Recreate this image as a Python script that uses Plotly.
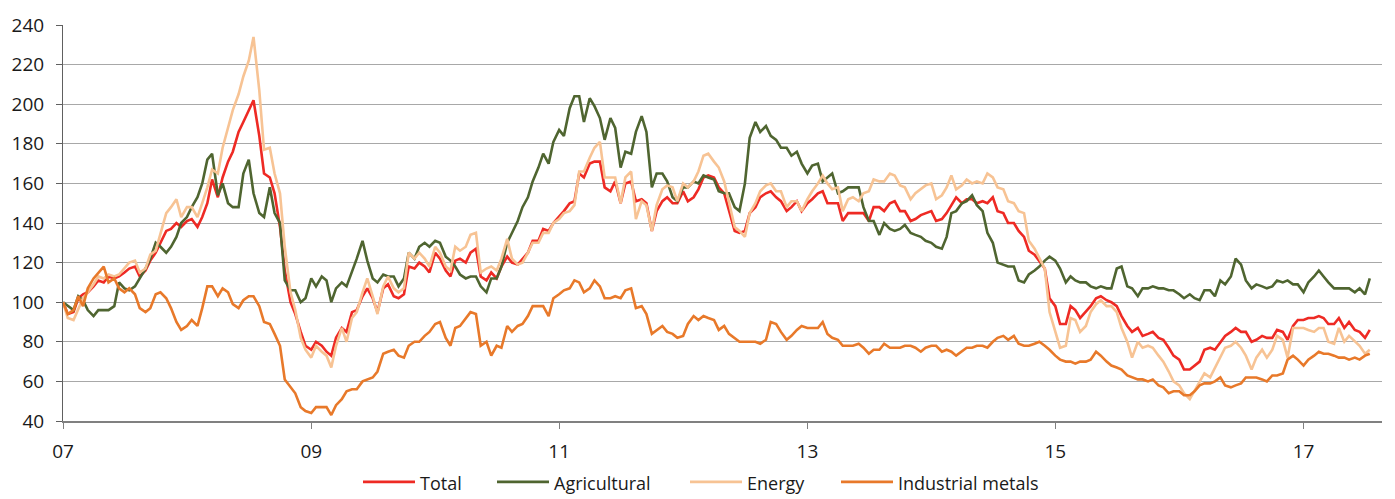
import pandas as pd
import plotly.graph_objects as go

# Commodity price indices, rebased to 100 at the start of 2007 (semi-monthly readings)
total = [
    100, 94, 95, 102, 104, 105, 108, 111, 110, 113,
    112, 113, 115, 117, 118, 113, 116, 121, 125, 130,
    136, 137, 140, 138, 141, 142, 138, 143, 150, 162,
    153, 163, 171, 176, 186, 191, 197, 202, 184, 165,
    163, 155, 138, 116, 100, 94, 85, 78, 76, 80,
    78, 75, 73, 82, 87, 85, 95, 96, 103, 107,
    102, 95, 107, 109, 103, 102, 104, 118, 117, 120,
    118, 115, 125, 122, 116, 113, 121, 122, 120, 125,
    127, 113, 111, 115, 112, 118, 123, 120, 119, 122,
    125, 131, 131, 137, 136, 140, 143, 146, 150, 151,
    165, 163, 170, 171, 171, 158, 156, 161, 150, 160,
    161, 151, 152, 150, 136, 146, 151, 153, 150, 150,
    156, 151, 153, 157, 163, 164, 163, 158, 155, 146,
    136, 135, 136, 145, 148, 153, 155, 156, 153, 151,
    146, 148, 151, 146, 150, 152, 155, 156, 150, 150,
    150, 141, 145, 145, 145, 145, 141, 148, 148, 146,
    150, 151, 146, 146, 141, 142, 144, 145, 146, 141,
    142, 145, 149, 153, 150, 152, 152, 150, 151, 150,
    153, 146, 145, 140, 140, 136, 133, 126, 124, 121,
    117, 102, 98, 89, 89, 98, 96, 92, 95, 98,
    102, 103, 101, 100, 98, 93, 88, 85, 87, 83,
    84, 85, 82, 81, 77, 73, 71, 66, 66, 68,
    70, 76, 77, 76, 80, 83, 85, 87, 85, 85,
    80, 81, 83, 82, 82, 86, 85, 81, 88, 91,
    91, 92, 92, 93, 92, 89, 89, 92, 87, 90,
    86, 85, 82, 86,
]

agricultural = [
    100, 98, 96, 103, 101, 96, 93, 96, 96, 96,
    98, 110, 107, 106, 108, 112, 117, 122, 130, 128,
    125, 128, 133, 140, 143, 148, 153, 160, 172, 175,
    154, 160, 150, 148, 148, 165, 172, 155, 145, 143,
    158, 145, 140, 111, 106, 106, 100, 102, 112, 108,
    113, 111, 100, 107, 110, 108, 115, 122, 131, 121,
    112, 110, 114, 113, 113, 108, 112, 125, 122, 128,
    130, 128, 131, 130, 123, 121, 118, 114, 112, 113,
    113, 108, 105, 112, 112, 118, 130, 135, 141, 148,
    153, 161, 168, 175, 170, 181, 187, 184, 198, 204,
    204, 191, 203, 199, 193, 182, 193, 188, 168, 176,
    175, 186, 194, 186, 158, 165, 165, 161, 153, 151,
    158, 158, 161, 160, 164, 163, 162, 156, 155, 155,
    148, 146, 160, 183, 191, 186, 189, 184, 182, 178,
    178, 174, 176, 170, 165, 169, 170, 161, 163, 165,
    155, 156, 158, 158, 158, 148, 141, 141, 134, 140,
    137, 136, 137, 139, 135, 134, 133, 131, 130, 128,
    127, 133, 145, 146, 150, 151, 154, 149, 146, 135,
    130, 120, 119, 118, 118, 111, 110, 114, 116, 118,
    121, 123, 121, 117, 110, 113, 111, 110, 110, 108,
    107, 108, 107, 107, 117, 118, 108, 107, 103, 107,
    107, 108, 107, 107, 106, 106, 104, 102, 104, 102,
    101, 106, 106, 103, 111, 109, 113, 122, 119, 111,
    107, 109, 108, 107, 108, 111, 110, 111, 109, 109,
    105, 110, 113, 116, 113, 110, 107, 107, 107, 107,
    105, 107, 104, 112,
]

energy = [
    100, 92, 91, 97, 102, 105, 109, 113, 112, 114,
    113, 114, 117, 120, 121, 115, 117, 124, 126, 135,
    145, 148, 152, 143, 148, 148, 143, 150, 158, 167,
    165, 178, 188, 197, 205, 214, 222, 234, 207, 177,
    178, 165, 155, 128, 105, 96, 82, 76, 72, 78,
    75, 73, 67, 78, 87, 80, 92, 95, 105, 112,
    103, 94, 108, 113, 107, 105, 107, 125, 122, 125,
    122, 118, 128, 125, 118, 116, 128, 126, 128, 134,
    135, 115, 117, 118, 116, 122, 132, 122, 119, 120,
    125, 130, 130, 135, 135, 140, 142, 145, 146, 149,
    166, 166, 173, 178, 181, 163, 163, 163, 150, 163,
    166, 142, 151, 149, 136, 149, 157, 159, 158, 151,
    160, 158, 161, 166, 174, 175, 171, 168, 161, 151,
    138, 136, 133, 145, 150, 156, 159, 160, 156, 156,
    148, 151, 151, 146, 152, 156, 160, 164, 160, 157,
    158, 146, 152, 153, 151, 155, 156, 162, 161, 161,
    165, 164, 159, 158, 152, 155, 157, 159, 160, 152,
    154, 158, 164, 157, 159, 162, 160, 161, 160, 165,
    163, 158, 157, 151, 150, 146, 145, 131, 127, 122,
    117, 95, 85, 77, 78, 92, 91, 85, 88, 95,
    99, 101, 98, 98, 95, 87, 80, 72, 80, 77,
    78, 77, 73, 70, 65, 60, 58, 54, 51, 55,
    60, 64, 62, 67, 72, 77, 78, 80, 77, 73,
    66, 72, 76, 72, 76, 83, 81, 72, 87, 87,
    87, 86, 85, 87, 87, 80, 79, 87, 80, 83,
    80, 78, 74, 76,
]

industrial_metals = [
    100, 94, 96, 103, 98, 107, 112, 115, 118, 110,
    112, 107, 105, 107, 104, 97, 95, 97, 104, 105,
    102, 97, 90, 86, 88, 91, 88, 97, 108, 108,
    103, 107, 105, 99, 97, 101, 103, 103, 98, 90,
    89, 84, 78, 61, 57, 54, 47, 45, 44, 47,
    47, 47, 43, 48, 51, 55, 56, 56, 60, 61,
    62, 65, 74, 75, 76, 73, 72, 78, 80, 80,
    83, 85, 89, 90, 82, 78, 87, 88, 92, 95,
    94, 78, 80, 73, 78, 77, 88, 85, 88, 89,
    93, 98, 98, 98, 93, 102, 104, 106, 107, 111,
    110, 105, 107, 111, 108, 102, 102, 103, 102, 106,
    107, 97, 98, 94, 84, 86, 88, 85, 84, 82,
    83, 89, 93, 91, 93, 92, 91, 86, 88, 84,
    82, 80, 80, 80, 80, 79, 81, 90, 89, 85,
    81, 83, 86, 88, 87, 87, 87, 90, 84, 82,
    81, 78, 78, 78, 79, 77, 74, 76, 76, 79,
    77, 77, 77, 78, 78, 77, 75, 77, 78, 78,
    75, 76, 75, 73, 75, 77, 77, 78, 78, 77,
    80, 82, 83, 81, 83, 79, 78, 78, 79, 80,
    78, 76, 73, 71, 70, 70, 69, 70, 70, 71,
    75, 73, 70, 68, 67, 66, 63, 62, 61, 61,
    60, 61, 58, 57, 54, 55, 55, 53, 53, 55,
    58, 59, 59, 60, 62, 58, 57, 58, 59, 62,
    62, 62, 61, 60, 63, 63, 64, 71, 73, 71,
    68, 71, 73, 75, 74, 74, 73, 72, 72, 71,
    72, 71, 73, 74,
]

# Observation dates: 1st and 15th of each month from January 2007
dates = pd.date_range(start="2007-01-01", periods=len(total), freq="SMS")

series_names = ["Total", "Agricultural", "Energy", "Industrial metals"]
series_values = [total, agricultural, energy, industrial_metals]
series_colors = ["#EE2A24", "#4F6530", "#F7C394", "#E8792A"]

FONT = "Open Sans"
TEXT_COLOR = "#1a1a1a"

fig = go.Figure()
for name, vals, color in zip(series_names, series_values, series_colors):
    fig.add_trace(go.Scatter(
        x=dates, y=vals, name=name, mode="lines",
        line=dict(color=color, width=2.6),
        showlegend=False, hoverinfo="skip",
    ))

# Plot-area geometry in pixels, used to place the legend below the axis
W, H = 1395, 499
L, R, T, B = 63, 13, 18, 78
PW, PH = W - L - R, H - T - B


def px_x(x):
    return (x - L) / PW


def px_y(y):
    return (H - B - y) / PH


legend_y = 483
legend_x0 = [363, 497, 690, 841]
shapes = []
annotations = []
for name, color, x0 in zip(series_names, series_colors, legend_x0):
    shapes.append(dict(
        type="line", xref="paper", yref="paper",
        x0=px_x(x0), x1=px_x(x0 + 52), y0=px_y(legend_y), y1=px_y(legend_y),
        line=dict(color=color, width=2.6),
    ))
    annotations.append(dict(
        xref="paper", yref="paper", x=px_x(x0 + 55), y=px_y(legend_y + 1),
        xanchor="left", yanchor="middle", showarrow=False, text=name,
        font=dict(family=FONT, size=18, color=TEXT_COLOR),
    ))

fig.update_layout(
    width=W, height=H,
    margin=dict(l=L, r=R, t=T, b=B),
    paper_bgcolor="white", plot_bgcolor="white",
    font=dict(family=FONT, size=18, color=TEXT_COLOR),
    showlegend=False,
    hovermode=False,
    shapes=shapes,
    annotations=annotations,
    xaxis=dict(
        type="date",
        range=["2007-01-01", "2017-08-20"],
        tick0="2007-01-01", dtick="M24", tickformat="%y",
        ticks="outside", ticklen=6, tickwidth=1, tickcolor="#808080",
        showline=True, linecolor="#808080", linewidth=2,
        showgrid=False, zeroline=False,
        tickfont=dict(family=FONT, size=19, color=TEXT_COLOR),
        ticklabelstandoff=6,
    ),
    yaxis=dict(
        range=[40, 240], dtick=20, tick0=40,
        ticks="outside", ticklen=6, tickwidth=1, tickcolor="#606060",
        showline=True, linecolor="#606060", linewidth=1,
        showgrid=True, gridcolor="#a8a8a8", gridwidth=1,
        zeroline=False,
        tickfont=dict(family=FONT, size=19, color=TEXT_COLOR),
        ticklabelstandoff=8,
    ),
)

fig.write_html("out.html")
